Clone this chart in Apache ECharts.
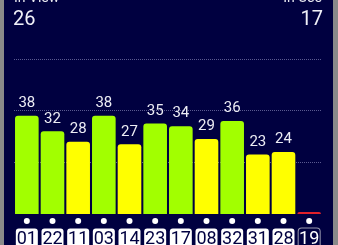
<!DOCTYPE html>
<html><head><meta charset="utf-8">
<script src="https://cdn.jsdelivr.net/npm/echarts@6/dist/echarts.min.js"></script>
<style>html,body{margin:0;padding:0;background:#000040;overflow:hidden}#c{width:338px;height:245px;}</style>
</head><body><div id="c"></div>
<script>
const satIds = ['01','22','11','03','14','23','17','08','32','31','28','19'];
const snr = [38,32,28,38,27,35,34,29,36,23,24,0];
const yMin = 0, yMax = 60, yStep = 20;
const inViewLabel = 'In View', inViewCount = '26';
const inUseLabel = 'In Use', inUseCount = '17';

const NAVY = '#000040';
const GREEN = '#a2ff00', YELLOW = '#ffff00', RED = '#e0202a';
function barColor(v){ return v <= 0 ? RED : (v >= 30 ? GREEN : YELLOW); }

const hiddenAxis = {axisLine: {show: false}, axisTick: {show: false}, splitLine: {show: false}};

const chart = echarts.init(document.getElementById('c'), null, {renderer:'canvas'});
chart.setOption({
  backgroundColor: NAVY,
  animation: false,
  textStyle: {fontFamily: 'Roboto'},
  grid: {left: 14, right: 16, top: 59, bottom: 31, containLabel: false, outerBoundsMode: 'none'},
  xAxis: [{
    type: 'category', data: satIds, position: 'bottom', ...hiddenAxis,
    axisLabel: {
      interval: 0, margin: 4,
      formatter: () => '{dot|}',
      rich: {dot: {backgroundColor: '#ffffff', width: 6, height: 6, borderRadius: 3, lineHeight: 6}}
    }
  }, {
    type: 'category', data: satIds, position: 'bottom', ...hiddenAxis,
    axisLabel: {
      interval: 0, margin: 15,
      formatter: function(v, i){ return '{' + (snr[i] > 0 ? 'box' : 'off') + '|' + v + '}'; },
      rich: {
        box: {backgroundColor: '#ffffff', color: NAVY, fontSize: 18, fontFamily: 'Roboto',
              width: 22, height: 20, lineHeight: 20, borderRadius: 3, align: 'center', padding: [1,0,0,0]},
        off: {backgroundColor: NAVY, color: '#ffffff', fontSize: 18, fontFamily: 'Roboto',
              width: 21, height: 20, lineHeight: 20, borderRadius: 3, align: 'center', padding: [1,0,0,0],
              borderColor: '#9a9ab0', borderWidth: 1}
      }
    }
  }],
  yAxis: {
    type: 'value', min: yMin, max: yMax, interval: yStep,
    axisLine: {show: false}, axisTick: {show: false}, axisLabel: {show: false},
    splitLine: {show: true, showMinLine: false, lineStyle: {type: 'dotted', color: '#5a5a90', width: 1}}
  },
  series: [{
    type: 'bar',
    xAxisIndex: 0,
    data: snr.map(v => ({value: v, itemStyle: {color: barColor(v)}})),
    barCategoryGap: '8%',
    barMinHeight: 2,
    itemStyle: {borderRadius: [3,3,0,0]},
    label: {
      show: true, position: 'top', distance: 5,
      color: '#ececf4', fontSize: 15, fontFamily: 'Roboto',
      formatter: p => p.value > 0 ? String(p.value) : ''
    }
  }],
  graphic: [
    {type: 'rect', left: 0, top: 0, shape: {width: 4, height: 245}, style: {fill: '#8a8a8a'}},
    {type: 'rect', left: 333, top: 0, shape: {width: 5, height: 245}, style: {fill: '#8a8a8a'}},
    {type: 'text', x: 14, y: 5, style: {text: inViewLabel, fill: '#e8e8f0', fontSize: 14, fontFamily: 'Roboto', verticalAlign: 'bottom', align: 'left'}},
    {type: 'text', x: 322, y: 5, style: {text: inUseLabel, fill: '#e8e8f0', fontSize: 14, fontFamily: 'Roboto', verticalAlign: 'bottom', align: 'right'}},
    {type: 'text', x: 13, y: 20, style: {text: inViewCount, fill: '#f0f0f8', fontSize: 20, fontFamily: 'Roboto', verticalAlign: 'middle', align: 'left'}},
    {type: 'text', x: 323, y: 20, style: {text: inUseCount, fill: '#f0f0f8', fontSize: 20, fontFamily: 'Roboto', verticalAlign: 'middle', align: 'right'}}
  ]
});
</script></body></html>
